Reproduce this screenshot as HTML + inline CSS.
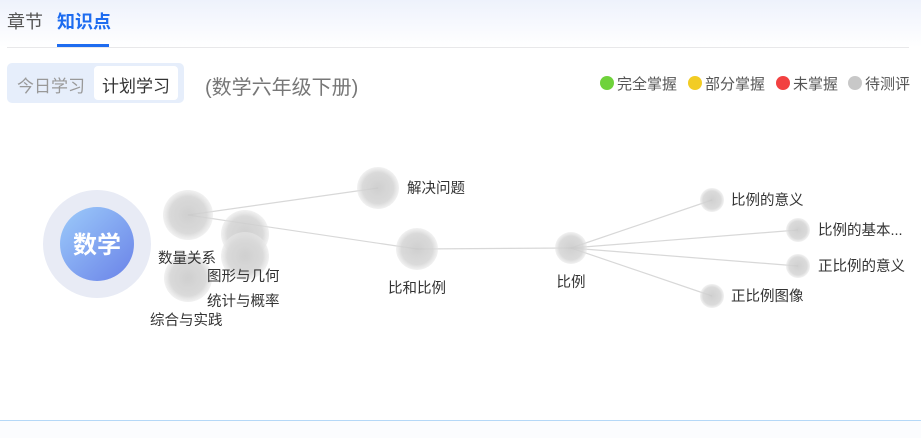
<!DOCTYPE html>
<html><head><meta charset="utf-8"><style>
body{margin:0;width:921px;height:438px;overflow:hidden;background:#fff;font-family:"Liberation Sans","Noto Sans CJK SC",sans-serif;position:relative}
.hdr{position:absolute;left:0;top:0;width:921px;height:47px;background:linear-gradient(to bottom,#eef2fc,#fff)}
.t{position:absolute;white-space:nowrap}
.d{position:absolute;top:76px;width:14px;height:14px;border-radius:50%}
.l{position:absolute;top:73px;font-size:15px;color:#555;white-space:nowrap}
</style></head><body>
<div class="hdr"></div>
<div class="t" style="left:7px;top:8px;font-size:18px;color:#555">章节</div>
<div class="t" style="left:57px;top:8px;font-size:18px;color:#1e6cf0;font-weight:bold">知识点</div>
<div style="position:absolute;left:57px;top:44px;width:52px;height:3px;background:#1e6cf0"></div>
<div style="position:absolute;left:7px;top:47px;width:902px;height:1px;background:#e8e8ea"></div>
<div style="position:absolute;left:7px;top:63px;width:177px;height:40px;background:#e6eefb;border-radius:5px"></div>
<div style="position:absolute;left:94px;top:66px;width:84px;height:34px;background:#fff;border-radius:4px"></div>
<div class="t" style="left:17px;top:72px;font-size:17px;color:#999">今日学习</div>
<div class="t" style="left:102px;top:72px;font-size:17px;color:#333">计划学习</div>
<div class="t" style="left:205px;top:71px;font-size:20px;color:#777">(数学六年级下册)</div>
<div class="d" style="left:600px;background:#6fd23b"></div><div class="l" style="left:617px">完全掌握</div>
<div class="d" style="left:688px;background:#f2cc24"></div><div class="l" style="left:705px">部分掌握</div>
<div class="d" style="left:776px;background:#f24141"></div><div class="l" style="left:793px">未掌握</div>
<div class="d" style="left:848px;background:#c8c8c8"></div><div class="l" style="left:865px">待测评</div>
<svg style="position:absolute;left:0;top:0" width="921" height="438">
<defs>
<radialGradient id="g" cx="50%" cy="50%" r="50%"><stop offset="0" stop-color="#c8c8c8"/><stop offset="0.75" stop-color="#d4d4d4"/><stop offset="1" stop-color="#e4e4e4" stop-opacity="0.6"/></radialGradient>
<linearGradient id="m" x1="0" y1="0" x2="1" y2="1"><stop offset="0" stop-color="#9ccbfa"/><stop offset="1" stop-color="#6a82e8"/></linearGradient>
</defs>
<g stroke="#d8d8d8" stroke-width="1.2" fill="none">
<line x1="188" y1="215" x2="378" y2="188"/><line x1="188" y1="215" x2="417" y2="249"/>
<line x1="417" y1="249" x2="571" y2="248"/>
<line x1="571" y1="248" x2="712" y2="200"/><line x1="571" y1="248" x2="798" y2="230"/>
<line x1="571" y1="248" x2="798" y2="266"/><line x1="571" y1="248" x2="712" y2="296"/>
</g>
<circle cx="97" cy="244" r="54" fill="#e8ebf5"/>
<circle cx="97" cy="244" r="37" fill="url(#m)"/>
<text x="97" y="253" font-size="24" font-weight="bold" fill="#fff" text-anchor="middle" font-family="Liberation Sans,Noto Sans CJK SC,sans-serif">数学</text>
<g fill="url(#g)" opacity="0.85">
<circle cx="188" cy="278" r="24"/><circle cx="245" cy="234" r="24"/><circle cx="245" cy="256" r="24"/><circle cx="188" cy="215" r="25"/>
<circle cx="378" cy="188" r="21"/><circle cx="417" cy="249" r="21"/><circle cx="571" cy="248" r="16"/>
<circle cx="712" cy="200" r="12"/><circle cx="798" cy="230" r="12"/><circle cx="798" cy="266" r="12"/><circle cx="712" cy="296" r="12"/>
</g>
<g font-size="14.5" fill="#333" font-family="Liberation Sans,Noto Sans CJK SC,sans-serif">
<text x="158" y="263">数量关系</text><text x="207" y="281">图形与几何</text><text x="207" y="306">统计与概率</text><text x="150" y="325">综合与实践</text>
<text x="407" y="193">解决问题</text><text x="417" y="293" text-anchor="middle">比和比例</text><text x="571" y="287" text-anchor="middle">比例</text>
<text x="731" y="205">比例的意义</text><text x="818" y="235">比例的基本...</text><text x="818" y="271">正比例的意义</text><text x="731" y="301">正比例图像</text>
</g>
</svg>
<div style="position:absolute;left:0;top:420px;width:921px;height:1px;background:#b5d8f7"></div>
<div style="position:absolute;left:0;top:421px;width:921px;height:17px;background:#fbfcfe"></div>
</body></html>
